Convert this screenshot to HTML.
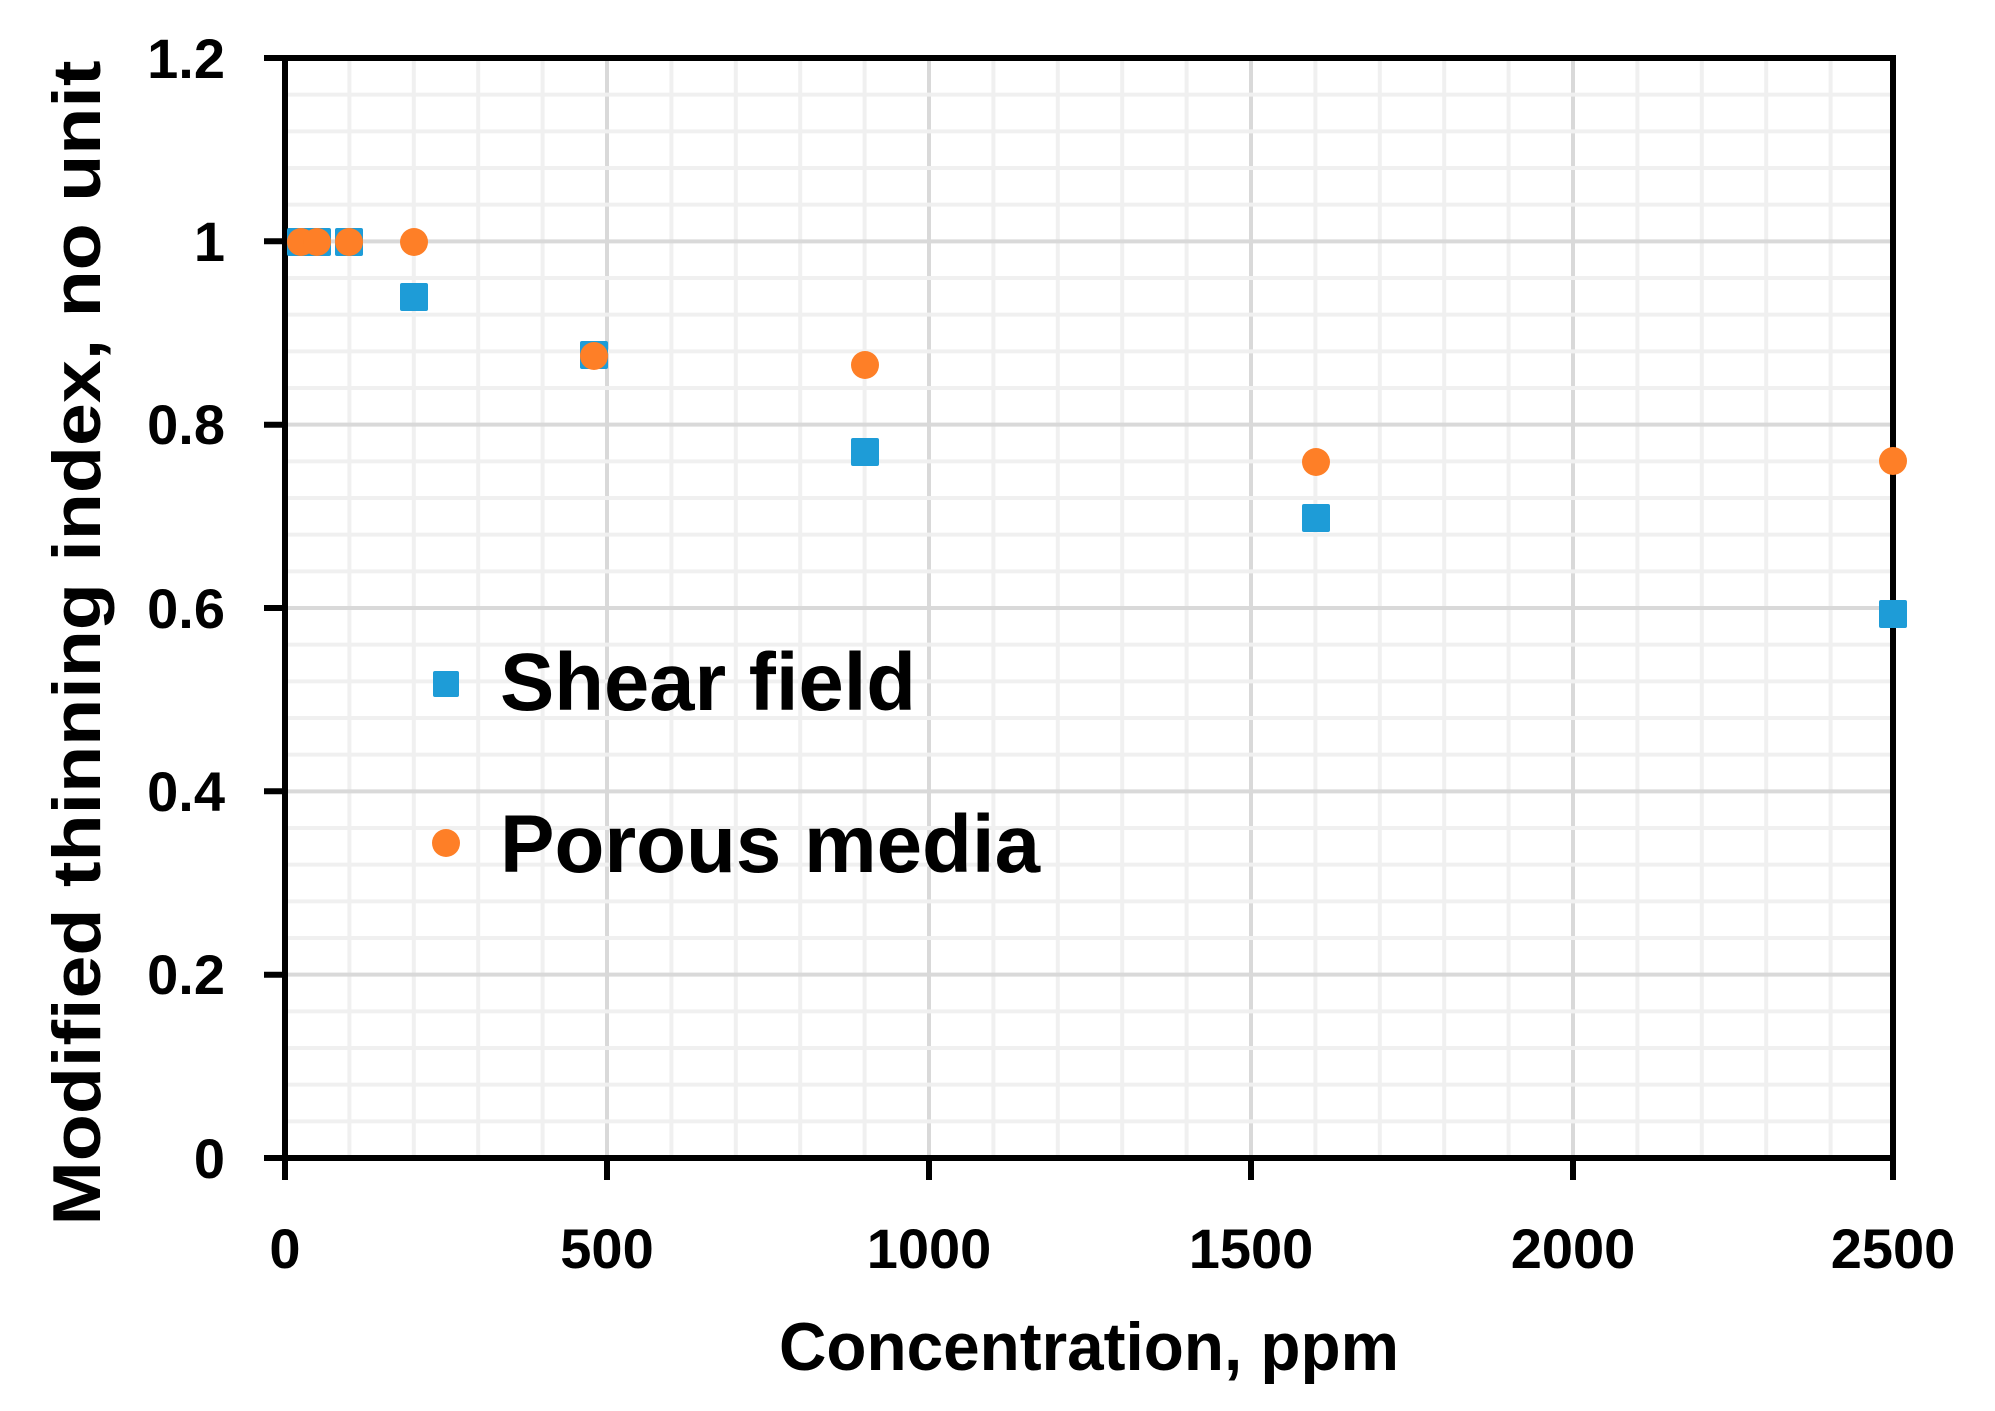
<!DOCTYPE html>
<html><head><meta charset="utf-8"><style>
html,body{margin:0;padding:0;background:#fff;}
svg text{font-family:"Liberation Sans",sans-serif;font-weight:bold;fill:#000;}
</style></head><body>
<svg width="1995" height="1406" viewBox="0 0 1995 1406" xmlns="http://www.w3.org/2000/svg">
<g id="grid"></g>
<script>
(function(){
var ns="http://www.w3.org/2000/svg",g=document.getElementById("grid");
function L(x1,y1,x2,y2,c,w){var l=document.createElementNS(ns,"line");l.setAttribute("x1",x1);l.setAttribute("y1",y1);l.setAttribute("x2",x2);l.setAttribute("y2",y2);l.setAttribute("stroke",c);l.setAttribute("stroke-width",w);g.appendChild(l);}
var X0=285,X1=1895,Y0=1158,Y1=58;
for(var i=1;i<25;i++){var x=X0+i*64.4;L(x,Y1,x,Y0,i%5==0?"#d9d9d9":"#f0f0f0",4);}
for(var j=1;j<30;j++){var y=Y0-j*(1100/30);L(X0,y,X1,y,j%5==0?"#d9d9d9":"#f0f0f0",4);}
})();
</script>
<g stroke="#000" stroke-width="6" fill="none">
<rect x="285" y="58" width="1608" height="1100"/>
<line x1="264" y1="58" x2="285" y2="58"/>
<line x1="264" y1="241.3" x2="285" y2="241.3"/>
<line x1="264" y1="424.7" x2="285" y2="424.7"/>
<line x1="264" y1="608" x2="285" y2="608"/>
<line x1="264" y1="791.3" x2="285" y2="791.3"/>
<line x1="264" y1="974.7" x2="285" y2="974.7"/>
<line x1="264" y1="1158" x2="285" y2="1158"/>
<line x1="285" y1="1158" x2="285" y2="1180"/>
<line x1="607" y1="1158" x2="607" y2="1180"/>
<line x1="929" y1="1158" x2="929" y2="1180"/>
<line x1="1251" y1="1158" x2="1251" y2="1180"/>
<line x1="1573" y1="1158" x2="1573" y2="1180"/>
<line x1="1893" y1="1158" x2="1893" y2="1180"/>
</g>
<g font-size="56" text-anchor="end">
<text x="225" y="78">1.2</text>
<text x="225" y="261">1</text>
<text x="225" y="444">0.8</text>
<text x="225" y="628">0.6</text>
<text x="225" y="811">0.4</text>
<text x="225" y="994">0.2</text>
<text x="225" y="1178">0</text>
</g>
<g font-size="56" text-anchor="middle">
<text x="285" y="1268">0</text>
<text x="607" y="1268">500</text>
<text x="929" y="1268">1000</text>
<text x="1251" y="1268">1500</text>
<text x="1573" y="1268">2000</text>
<text x="1893" y="1268">2500</text>
</g>
<text x="1089" y="1370" font-size="68" text-anchor="middle" textLength="620" lengthAdjust="spacingAndGlyphs">Concentration, ppm</text>
<text transform="translate(100,643) rotate(-90)" font-size="68" text-anchor="middle" textLength="1165" lengthAdjust="spacingAndGlyphs">Modified thinning index, no unit</text>
<g fill="#1e9cd7">
<rect x="287" y="228" width="28" height="28" rx="2"/>
<rect x="303" y="228" width="28" height="28" rx="2"/>
<rect x="335" y="228" width="28" height="28" rx="2"/>
<rect x="400" y="283" width="28" height="28" rx="2"/>
<rect x="580" y="341" width="28" height="28" rx="2"/>
<rect x="851" y="438" width="28" height="28" rx="2"/>
<rect x="1302" y="504" width="28" height="28" rx="2"/>
<rect x="1879" y="600" width="28" height="28" rx="2"/>
<rect x="433" y="671" width="26" height="26" rx="2"/>
</g>
<g fill="#fe7f27">
<ellipse cx="301" cy="242" rx="14" ry="14"/>
<ellipse cx="317" cy="242" rx="14" ry="14"/>
<ellipse cx="349" cy="242" rx="14" ry="14"/>
<ellipse cx="414" cy="242" rx="14" ry="14"/>
<ellipse cx="594" cy="356" rx="14" ry="14"/>
<ellipse cx="865" cy="365" rx="14" ry="14"/>
<ellipse cx="1316" cy="462" rx="14" ry="14"/>
<ellipse cx="1893" cy="461" rx="14" ry="14"/>
<ellipse cx="446" cy="843" rx="14" ry="14"/>
</g>
<text x="500" y="710" font-size="82" textLength="416" lengthAdjust="spacingAndGlyphs">Shear field</text>
<text x="500" y="872" font-size="82" textLength="540" lengthAdjust="spacingAndGlyphs">Porous media</text>
</svg>
</body></html>
